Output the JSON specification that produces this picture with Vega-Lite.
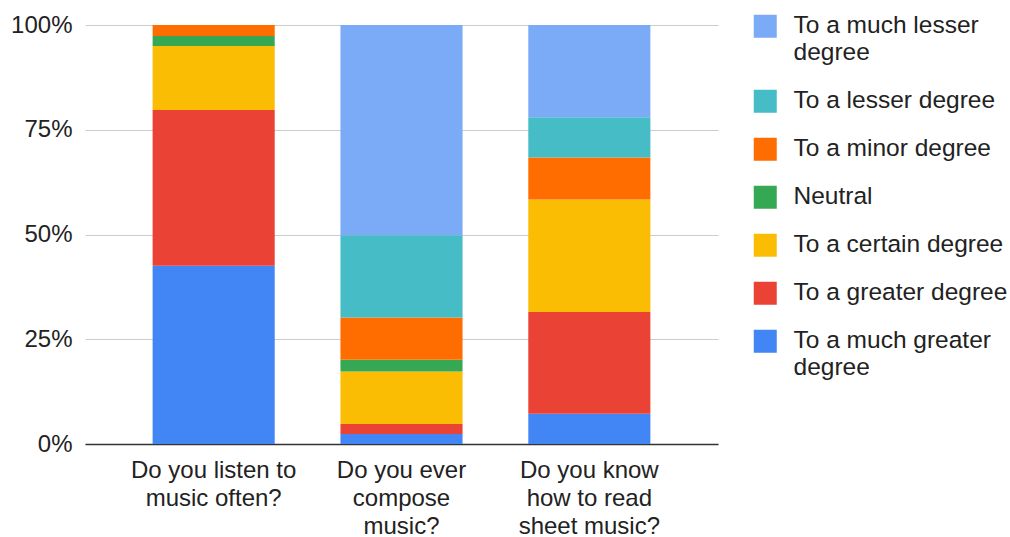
{
  "$schema": "https://vega.github.io/schema/vega-lite/v6.json",
  "width": 633,
  "height": 419,
  "autosize": {"type": "none"},
  "padding": {"left": 85, "top": 25, "right": 292, "bottom": 93},
  "background": "white",
  "config": {
    "view": {"stroke": null},
    "font": "Liberation Sans",
    "axis": {"labelFont": "Liberation Sans", "labelColor": "#222222", "labelFontSize": 24, "ticks": false, "title": null},
    "legend": {"labelFont": "Liberation Sans", "labelColor": "#222222", "labelFontSize": 24.5}
  },
  "data": {
    "values": [
      {"question": "Do you listen to music often?", "response": "To a much greater degree", "rank": 1, "pct": 42.6},
      {"question": "Do you listen to music often?", "response": "To a greater degree", "rank": 2, "pct": 37.2},
      {"question": "Do you listen to music often?", "response": "To a certain degree", "rank": 3, "pct": 15.3},
      {"question": "Do you listen to music often?", "response": "Neutral", "rank": 4, "pct": 2.4},
      {"question": "Do you listen to music often?", "response": "To a minor degree", "rank": 5, "pct": 2.6},
      {"question": "Do you ever compose music?", "response": "To a much greater degree", "rank": 1, "pct": 2.4},
      {"question": "Do you ever compose music?", "response": "To a greater degree", "rank": 2, "pct": 2.4},
      {"question": "Do you ever compose music?", "response": "To a certain degree", "rank": 3, "pct": 12.5},
      {"question": "Do you ever compose music?", "response": "Neutral", "rank": 4, "pct": 2.8},
      {"question": "Do you ever compose music?", "response": "To a minor degree", "rank": 5, "pct": 10.1},
      {"question": "Do you ever compose music?", "response": "To a lesser degree", "rank": 6, "pct": 19.6},
      {"question": "Do you ever compose music?", "response": "To a much lesser degree", "rank": 7, "pct": 50.2},
      {"question": "Do you know how to read sheet music?", "response": "To a much greater degree", "rank": 1, "pct": 7.2},
      {"question": "Do you know how to read sheet music?", "response": "To a greater degree", "rank": 2, "pct": 24.3},
      {"question": "Do you know how to read sheet music?", "response": "To a certain degree", "rank": 3, "pct": 26.8},
      {"question": "Do you know how to read sheet music?", "response": "To a minor degree", "rank": 5, "pct": 10.0},
      {"question": "Do you know how to read sheet music?", "response": "To a lesser degree", "rank": 6, "pct": 9.6},
      {"question": "Do you know how to read sheet music?", "response": "To a much lesser degree", "rank": 7, "pct": 22.0}
    ]
  },
  "mark": {"type": "bar"},
  "encoding": {
    "x": {
      "field": "question",
      "type": "nominal",
      "sort": null,
      "scale": {"paddingInner": 0.35, "paddingOuter": 0.36},
      "axis": {
        "labelAngle": 0,
        "labelPadding": 14,
        "labelLineHeight": 28,
        "domainColor": "#333333",
        "domainWidth": 1.5,
        "grid": false,
        "labelExpr": "datum.label == 'Do you listen to music often?' ? ['Do you listen to', 'music often?'] : datum.label == 'Do you ever compose music?' ? ['Do you ever', 'compose', 'music?'] : ['Do you know', 'how to read', 'sheet music?']"
      }
    },
    "y": {
      "field": "pct",
      "type": "quantitative",
      "stack": "normalize",
      "scale": {"domain": [0, 1]},
      "axis": {
        "values": [0, 0.25, 0.5, 0.75, 1],
        "format": ".0%",
        "domain": false,
        "grid": true,
        "gridColor": "#cccccc",
        "gridWidth": 1,
        "labelPadding": 13
      }
    },
    "color": {
      "field": "response",
      "type": "nominal",
      "scale": {
        "domain": ["To a much lesser degree", "To a lesser degree", "To a minor degree", "Neutral", "To a certain degree", "To a greater degree", "To a much greater degree"],
        "range": ["#7baaf7", "#46bdc6", "#ff6d01", "#34a853", "#fbbc04", "#ea4335", "#4285f4"]
      },
      "legend": {
        "title": null,
        "orient": "none",
        "legendX": 668,
        "legendY": -11,
        "symbolType": "square",
        "symbolSize": 529,
        "symbolStrokeWidth": 0,
        "symbolOpacity": 1,
        "labelOffset": 16,
        "rowPadding": 23,
        "labelLineHeight": 28,
        "labelLimit": 300,
        "labelExpr": "datum.label == 'To a much lesser degree' ? ['To a much lesser', 'degree'] : datum.label == 'To a much greater degree' ? ['To a much greater', 'degree'] : datum.label"
      }
    },
    "order": {"field": "rank", "type": "quantitative", "sort": "ascending"}
  }
}
